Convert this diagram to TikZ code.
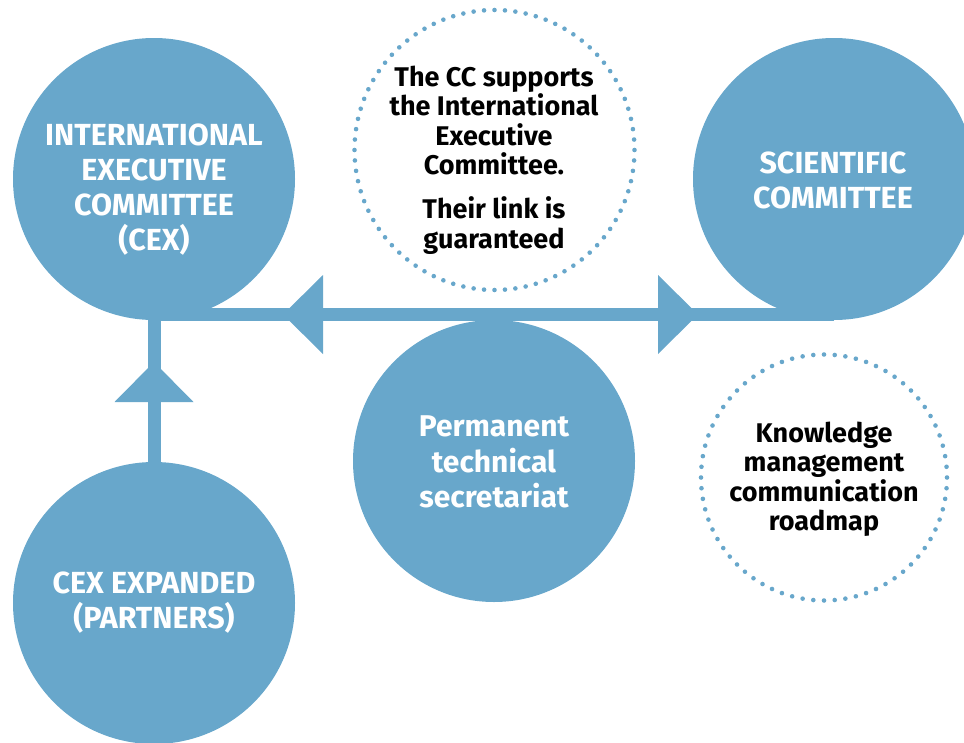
\documentclass[tikz,border=0pt]{standalone}
\usepackage{fontspec}
\setmainfont{Fira Sans}
\definecolor{cblue}{RGB}{104,167,203}
\tikzset{
  bluecirc/.style={circle, fill=cblue, draw=none, minimum size=282pt, inner sep=0pt},
  ghostcirc/.style={circle, draw=none, inner sep=0pt},
  whitetxt/.style={text=white, align=center, font=\fontsize{30.5}{35}\selectfont\bfseries, inner sep=0pt},
  blacktxt/.style={text=black, align=center, font=\fontsize{27}{29.5}\selectfont\bfseries, inner sep=0pt},
  bar/.style={draw=cblue, line width=13pt},
  arrowhead/.style={fill=cblue, draw=none}
}
\newcommand{\dotring}[3]{% center node, radius, count
  \foreach \k in {1,...,#3}{
    \fill[cblue] (#1) ++({360/#3*\k}:#2) circle (2.3pt);
  }
}
\begin{document}
\begin{tikzpicture}[x=1pt,y=1pt]
\useasboundingbox (0,0) rectangle (964,-742);
\clip (0,0) rectangle (964,-742);

% circles
\node[bluecirc] (cex) at (154,-179) {};
\node[bluecirc] (sc) at (834,-179) {};
\node[bluecirc] (pts) at (494,-461) {};
\node[bluecirc] (cexe) at (154,-603) {};

% connectors
\coordinate (hl) at (154,-314.5);
\coordinate (hr) at (834,-314.5);
\draw[bar] (hl) -- (hr);
\draw[bar] (hl) -- (cexe.north);
\fill[arrowhead] (283,-314.5) -- (323,-275) -- (323,-354) -- cycle;
\fill[arrowhead] (698,-314.5) -- (658,-275) -- (658,-354) -- cycle;
\fill[arrowhead] (154,-362) -- (114.5,-402) -- (193.5,-402) -- cycle;

% dotted circles
\node[ghostcirc, minimum size=280pt] (dc1) at (494.5,-150) {};
\dotring{dc1.center}{140pt}{84}
\node[ghostcirc, minimum size=246pt] (dc2) at (824,-477.5) {};
\dotring{dc2.center}{123pt}{72}

% texts
\node[whitetxt] (cextxt) at (154,-190) {INTERNATIONAL\\EXECUTIVE\\COMMITTEE\\(CEX)};
\node[whitetxt] (sctxt) at (833,-180) {SCIENTIFIC\\COMMITTEE};
\node[whitetxt, font=\fontsize{30}{35.5}\selectfont\bfseries] (ptstxt) at (494,-462) {Permanent\\technical\\secretariat};
\node[whitetxt] (cexetxt) at (154,-603) {CEX EXPANDED\\(PARTNERS)};
\node[blacktxt] (dc1txt) at (494,-160) {The CC supports\\the International\\Executive\\Committee.\\[14.5pt]Their link is\\guaranteed};
\node[blacktxt] (dc2txt) at (824,-479) {Knowledge\\management\\communication\\roadmap};
\end{tikzpicture}
\end{document}
